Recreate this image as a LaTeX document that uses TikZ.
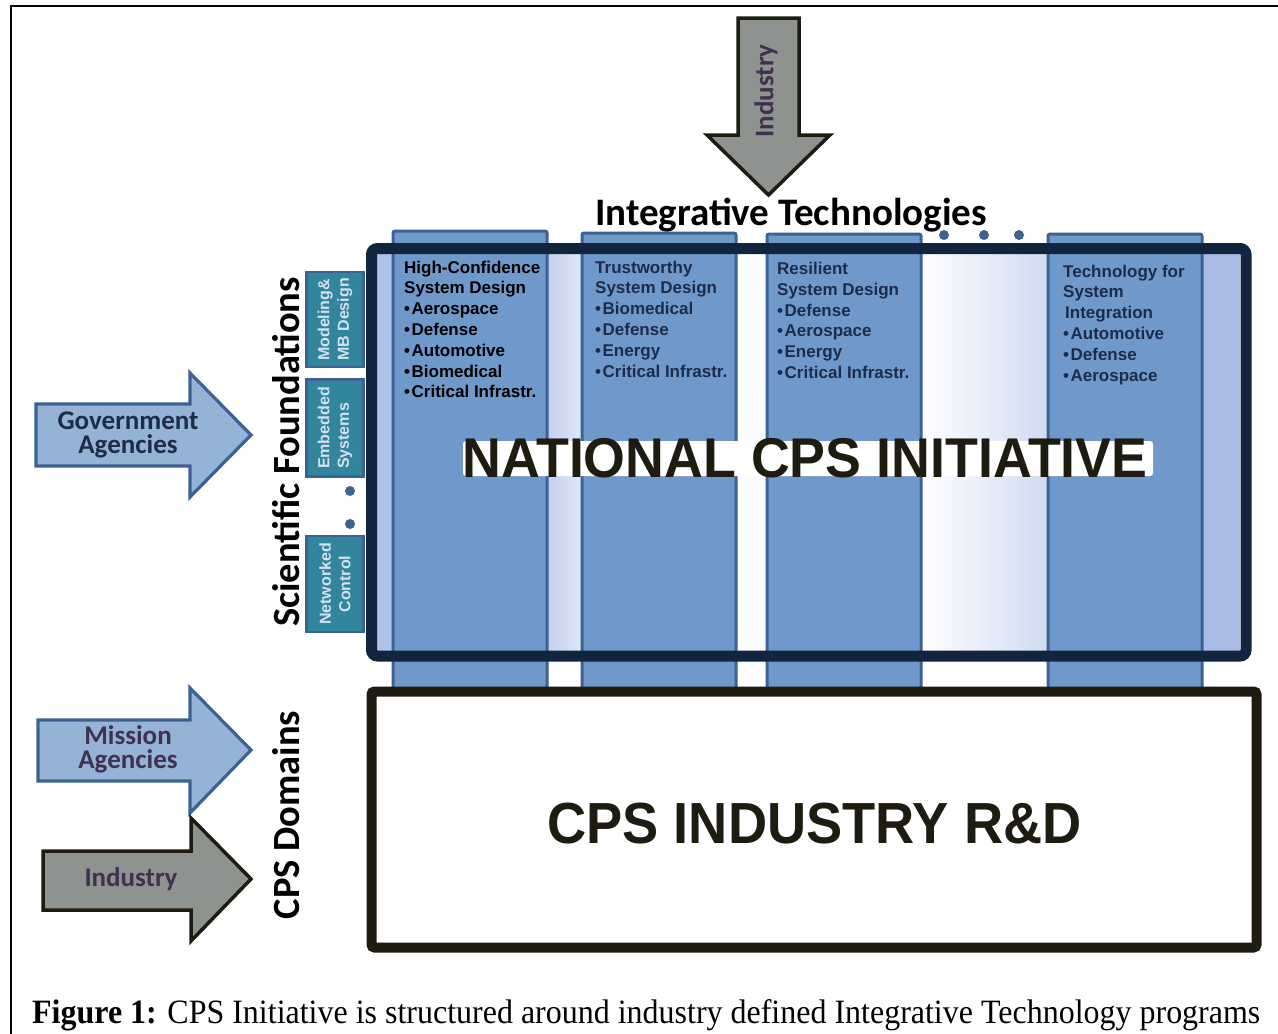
\documentclass[tikz,border=0pt]{standalone}
\usepackage{fontspec}
\usepackage{graphicx}
\setmainfont{Liberation Serif}
\newfontfamily\calibf{Carlito}
\newfontfamily\arialf{Liberation Sans}
\definecolor{navy}{HTML}{13243F}
\definecolor{colfill}{HTML}{7099CB}
\definecolor{colborder}{HTML}{3C6293}
\definecolor{tealfill}{HTML}{31859C}
\definecolor{teallabel}{HTML}{D4E1F2}
\definecolor{arrowblue}{HTML}{95B3D7}
\definecolor{purpletext}{HTML}{3F3151}
\definecolor{grayarrow}{HTML}{8E9390}
\definecolor{blackish}{HTML}{1E1C11}
\definecolor{navytext}{HTML}{1C2C4A}
\definecolor{edgeblue}{HTML}{AFC2EA}
\definecolor{edgeblueR}{HTML}{A8BCE6}
\begin{document}
\begin{tikzpicture}[x=1pt,y=-1pt,
  bluearrow/.style={fill=arrowblue, draw=colborder, line width=3.2, line join=miter},
  grayarrowstyle/.style={fill=grayarrow, draw=blackish, line width=3.5, line join=miter},
  column/.style={fill=colfill, draw=colborder, line width=3, rounded corners=2},
  coltext/.style={anchor=north west, inner sep=0, align=left,
     font=\arialf\bfseries\fontsize{17}{20.8}\selectfont},
  tealbox/.style={rotate=90, fill=tealfill, draw=colborder, line width=2.5,
     minimum height=57, inner sep=0, text=teallabel,
     font=\arialf\bfseries\fontsize{16}{19.5}\selectfont},
  arrowlabel/.style={align=center, inner sep=0,
     font=\calibf\bfseries\fontsize{27}{24}\selectfont},
  sidetitle/.style={rotate=90, anchor=base, inner sep=0, text=black,
     font=\calibf\bfseries\fontsize{38.5}{40}\selectfont},
  dot/.style={fill=colborder}
]
\useasboundingbox (0,0) rectangle (1278,1034);
\fill[white] (0,0) rectangle (1278,1034);

% outer frame
\draw[line width=2, black] (1280,6) -- (11,6) -- (11,1036);

% top industry arrow
\draw[grayarrowstyle] (738,18) -- (799,18) -- (799,135) -- (830,135) -- (768.5,195)
   -- (707,135) -- (738,135) -- cycle;
\node[rotate=90, arrowlabel, text=purpletext] (indtop) at (766,91) {Industry};

% Integrative Technologies
\node[anchor=base, inner sep=0, font=\calibf\bfseries\fontsize{39}{40}\selectfont]
   (integ) at (791,225) {Integrative Technologies};

% dots top
\fill[dot] (944,235) circle (5);
\fill[dot] (984,235) circle (5);
\fill[dot] (1019,235) circle (5);

% main box interior (gaps between columns)
\fill[edgeblue] (377,254) rectangle (395,651);
\shade[left color=edgeblue!80!white, right color=edgeblue!35!white] (545,254) rectangle (584,651);
\shade[left color=white, right color=edgeblue!10!white] (734,254) rectangle (769,651);
\shade[left color=white, right color=edgeblue!60!white] (919,254) rectangle (1050,651);
\fill[edgeblueR] (1200,254) rectangle (1240,651);

% columns
\draw[column] (393,231) rectangle (547,692);
\draw[column] (582,233) rectangle (736,692);
\draw[column] (767,234) rectangle (921,692);
\draw[column] (1048,234) rectangle (1202,692);

% teal boxes
\node[tealbox, minimum width=95, align=left] (model) at (335,319.5) {Modeling\&\\MB Design};
\node[tealbox, minimum width=97, align=left] (embed) at (335,428) {Embedded\\Systems};
\node[tealbox, minimum width=96, align=center] (netw) at (335,584) {Networked\\Control};
\fill[dot] (350,491) circle (5);
\fill[dot] (350,524) circle (5);

% main border
\draw[navy, line width=11, rounded corners=6] (371.5,248.5) rectangle (1246,656);

% column texts
\node[coltext, text=black] (t1) at (404,260.6)
  {High-Confidence\\System Design\\•\hspace{1.5pt}Aerospace\\•\hspace{1.5pt}Defense\\•\hspace{1.5pt}Automotive\\•\hspace{1.5pt}Biomedical\\•\hspace{1.5pt}Critical Infrastr.};
\node[coltext, text=navytext] (t2) at (595,260.6)
  {Trustworthy\\System Design\\•\hspace{1.5pt}Biomedical\\•\hspace{1.5pt}Defense\\•\hspace{1.5pt}Energy\\•\hspace{1.5pt}Critical Infrastr.};
\node[coltext, text=navytext] (t3) at (777,262)
  {Resilient\\System Design\\•\hspace{1.5pt}Defense\\•\hspace{1.5pt}Aerospace\\•\hspace{1.5pt}Energy\\•\hspace{1.5pt}Critical Infrastr.};
\node[coltext, text=navytext] (t4) at (1063,264.5)
  {Technology for\\System\\\hspace{2pt}Integration\\•\hspace{1.5pt}Automotive\\•\hspace{1.5pt}Defense\\•\hspace{1.5pt}Aerospace};

% National CPS initiative
\fill[white, rounded corners=3] (463,441) rectangle (1153,476);
\node[anchor=base, inner sep=0, text=blackish, font=\arialf\bfseries\fontsize{56}{60}\selectfont]
  (nat) at (805,477) {\scalebox{0.96}[1]{NATIONAL CPS INITIATIVE}};

% CPS industry box
\draw[fill=white, draw=blackish, line width=10, rounded corners=3]
  (371.5,691.5) rectangle (1256.5,947.5);
\node[anchor=base, inner sep=0, text=blackish, font=\arialf\bfseries\fontsize{58}{60}\selectfont]
  (ind) at (814.5,843) {\scalebox{0.935}[1]{CPS INDUSTRY R\&D}};

% side titles
\node[sidetitle] (sf) at (299,452) {Scientific Foundations};
\node[sidetitle] (dom) at (299,815) {CPS Domains};

% left arrows
\draw[bluearrow] (36,404) -- (190,404) -- (190,373) -- (251,435) -- (190,497)
  -- (190,466) -- (36,466) -- cycle;
\node[arrowlabel, text=navytext] (gov) at (128,435) {Government\\Agencies};

\draw[bluearrow] (38,720) -- (190,720) -- (190,688) -- (251,750) -- (190,813)
  -- (190,781) -- (38,781) -- cycle;
\node[arrowlabel, text=purpletext] (mis) at (128,749) {Mission\\Agencies};

\draw[grayarrowstyle] (43,851) -- (191,851) -- (191,818) -- (251,879) -- (191,941)
  -- (191,910) -- (43,910) -- cycle;
\node[arrowlabel, text=purpletext] (indl) at (131,879) {Industry};

% caption
\node[anchor=base west, inner sep=0] (cap) at (32,1023)
  {\resizebox{1228pt}{24pt}{\textbf{Figure 1:} CPS Initiative is structured around industry defined Integrative Technology programs}};
\end{tikzpicture}
\end{document}
